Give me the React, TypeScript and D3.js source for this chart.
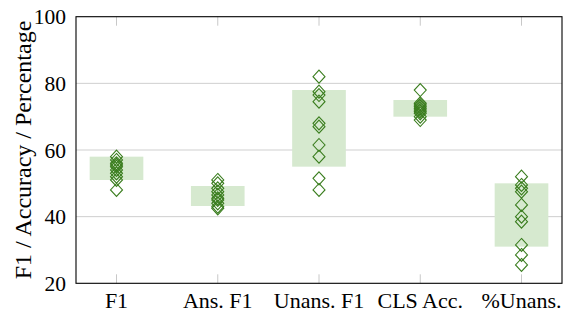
import React from 'react';
import * as d3 from 'd3';

const categories = ['F1', 'Ans. F1', 'Unans. F1', 'CLS Acc.', '%Unans.'];
const boxLow = [51, 43.2, 55, 70, 31];
const boxHigh = [58, 49.2, 78, 75, 50];
const runsF1 = [58, 57, 56, 55.5, 55, 54, 53, 52, 51, 48];
const runsAnsF1 = [51, 50, 48.5, 47.5, 46.5, 45.5, 45, 44, 43, 42.5];
const runsUnansF1 = [82, 77.5, 76.5, 74.5, 68, 67, 61.5, 58, 51.5, 48];
const runsClsAcc = [78, 74, 73.5, 73, 72.5, 72, 71.5, 71, 70, 69];
const runsPctUnans = [52, 49.5, 48.5, 47.5, 43.5, 40, 38.5, 31.5, 28.5, 25.5];
const runs = [runsF1, runsAnsF1, runsUnansF1, runsClsAcc, runsPctUnans];
const yTicks = [20, 40, 60, 80, 100];

const W = 566;
const H = 313;
const MARK = '#3a7d1e';
const BOX = '#d6e9cf';
const SERIF = 'Liberation Serif, Times New Roman, Times, DejaVu Serif, serif';

export default function App() {
  const x = d3.scaleLinear().domain([-0.4, 4.4]).range([76, 562]);
  const y = d3.scaleLinear().domain([20, 100]).range([283.3, 16.7]);
  const half = x(0.265) - x(0);

  // diamond marker path
  const diamond = (cx: number, cy: number) =>
    `M${cx},${cy - 6.5}L${cx + 6},${cy}L${cx},${cy + 6.5}L${cx - 6},${cy}Z`;

  return (
    <svg width={W} height={H} style={{ position: 'absolute', left: 0, top: 0, fontFamily: SERIF }}>
      <rect width={W} height={H} fill="#fff" />
      {/* grid */}
      {yTicks.slice(1, -1).map(t => (
        <line key={t} x1={x(-0.4)} x2={x(4.4)} y1={y(t)} y2={y(t)} stroke="#cfcfcf" strokeWidth={1} />
      ))}
      {/* x ticks (top and bottom) */}
      {categories.map((c, i) => (
        <g key={c} stroke="#c8c8c8" strokeWidth={1}>
          <line x1={x(i)} x2={x(i)} y1={y(20)} y2={y(20) - 9} />
          <line x1={x(i)} x2={x(i)} y1={y(100)} y2={y(100) + 9} />
        </g>
      ))}
      {/* boxes */}
      {categories.map((c, i) => (
        <rect key={c} x={x(i) - half} width={2 * half} y={y(boxHigh[i])}
          height={y(boxLow[i]) - y(boxHigh[i])} fill={BOX} />
      ))}
      {/* run markers */}
      {runs.map((vals, i) =>
        vals.map((v, j) => (
          <path key={`${i}-${j}`} d={diamond(x(i), y(v))} fill="none" stroke={MARK} strokeWidth={1.1} />
        ))
      )}
      {/* frame */}
      <rect x={x(-0.4)} y={y(100)} width={x(4.4) - x(-0.4)} height={y(20) - y(100)}
        fill="none" stroke="#000" strokeWidth={1.1} />
      {/* y tick labels */}
      {yTicks.map(t => (
        <text key={t} x={66} y={y(t) + 7.5} textAnchor="end" fontSize={21.5} fill="#000"
          style={{ fontFamily: SERIF }}>{t}</text>
      ))}
      {/* x tick labels */}
      {categories.map((c, i) => (
        <text key={c} x={x(i)} y={308} textAnchor="middle" fontSize={22} fill="#000"
          style={{ fontFamily: SERIF }}>{c}</text>
      ))}
      <text transform={`translate(31,${(y(20) + y(100)) / 2}) rotate(-90)`} textAnchor="middle"
        fontSize={24} fill="#000" style={{ fontFamily: SERIF }}>F1 / Accuracy / Percentage</text>
    </svg>
  );
}
